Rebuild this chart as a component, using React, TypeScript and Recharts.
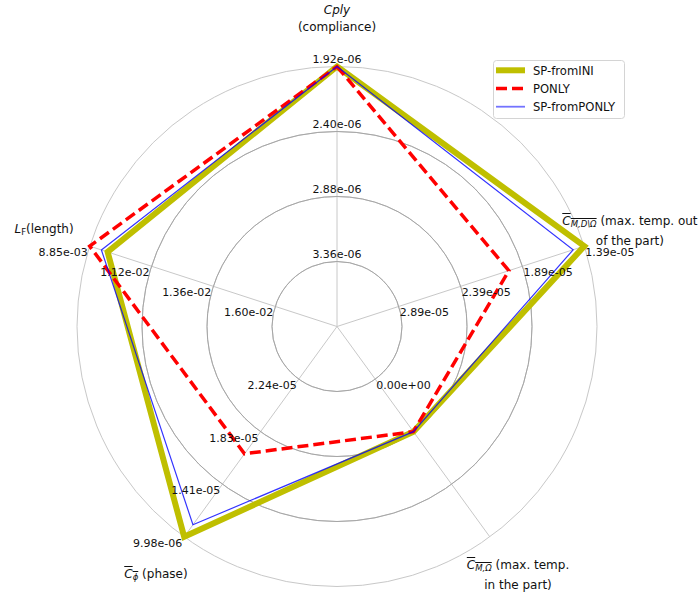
import React from "react";
import { RadarChart, Radar, PolarGrid, PolarAngleAxis, PolarRadiusAxis } from "recharts";

// axes, clockwise from the top
const axes = ["Cply", "CmOut", "CmIn", "Cphi", "Lf"];
const axisAngles = [90, 18, -54, -126, 162];

// grid labels per axis, inner ring -> outer ring (outer = best)
const cplyTicks = ["3.36e-06", "2.88e-06", "2.40e-06", "1.92e-06"];
const cmOutTicks = ["2.89e-05", "2.39e-05", "1.89e-05", "1.39e-05"];
const cmInTicks = ["0.00e+00", "", "", ""];
const cphiTicks = ["2.24e-05", "1.83e-05", "1.41e-05", "9.98e-06"];
const lfTicks = ["1.60e-02", "1.36e-02", "1.12e-02", "8.85e-03"];
const ringTicks = [1, 2, 3, 4];

const seriesNames = ["SP-fromINI", "PONLY", "SP-fromPONLY"];
const cplyValues = [1.92e-6, 1.92e-6, 1.92e-6];
const cmOutValues = [1.39e-5, 2.0e-5, 1.48e-5];
const cmInValues = [0, 0, 0];
const cphiValues = [9.98e-6, 1.652e-5, 1.093e-5];
const lfValues = [9.54e-3, 8.85e-3, 9.3e-3];

const axisTicks = [cplyTicks, cmOutTicks, cmInTicks, cphiTicks, lfTicks];
const axisValues = [cplyValues, cmOutValues, cmInValues, cphiValues, lfValues];

// ring index 1 (inner tick) .. 4 (outer tick); a flat axis sits on ring 2
function toRing(v: number, ticks: string[]) {
  const inner = parseFloat(ticks[0]);
  const outer = parseFloat(ticks[3]);
  if (!isFinite(outer) || outer === inner) return 2;
  return 1 + (3 * (inner - v)) / (inner - outer);
}

const keys = ["ini", "ponly", "fromPonly"];
const data = axes.map((a, i) => {
  const row: any = { axis: a };
  keys.forEach((k, s) => (row[k] = toRing(axisValues[i][s], axisTicks[i])));
  return row;
});

const FONT = "DejaVu Sans";
const RADIUS = 260;
const gridRadii = ringTicks.map((t) => (t * RADIUS) / 4);

// one radius axis (drawn at 90deg); its tick also writes the matching
// label on the other four spokes at the same ring coordinate
const RadiusTick = (props: any) => {
  const { x, y, payload } = props;
  const r = payload.coordinate;
  const cx = x;
  const cy = y + r;
  const idx = ringTicks.indexOf(payload.value);
  return (
    <g>
      {axisAngles.map((ang, i) => {
        const label = axisTicks[i][idx];
        if (!label) return null;
        const rad = (ang * Math.PI) / 180;
        const px = cx + r * Math.cos(rad);
        const py = cy - r * Math.sin(rad);
        if (ang === 90) {
          return (
            <text key={i} x={px} y={py - 3.5} textAnchor="middle" fontSize={11} fill="#111" fontFamily={FONT}>
              {label}
            </text>
          );
        }
        const right = Math.cos(rad) > 0;
        return (
          <text key={i} x={right ? px + 1 : px - 2} y={py + 10} textAnchor={right ? "start" : "end"}
            fontSize={11} fill="#111" fontFamily={FONT}>
            {label}
          </text>
        );
      })}
    </g>
  );
};

const sub = (s: string, italic = true) => (
  <sub style={{ fontSize: 8.5, verticalAlign: "-2px", fontStyle: italic ? "italic" : "normal" }}>{s}</sub>
);

const angleLabels = [
  <>
    <i>Cply</i>
    <br />
    (compliance)
  </>,
  <>
    <span style={{ textDecoration: "overline" }}>
      <i>C</i>
      {sub("M,D\\Ω")}
    </span>{" "}
    (max. temp. out
    <br />
    of the part)
  </>,
  <>
    <span style={{ textDecoration: "overline" }}>
      <i>C</i>
      {sub("M,Ω")}
    </span>{" "}
    (max. temp.
    <br />
    in the part)
  </>,
  <>
    <span style={{ textDecoration: "overline" }}>
      <i>C</i>
      {sub("ϕ")}
    </span>{" "}
    (phase)
  </>,
  <>
    <i>L</i>
    {sub("F", false)}(length)
  </>,
];

const AngleTick = (props: any) => {
  const { x, y, index } = props;
  return (
    <foreignObject x={x - 120} y={y - 30} width={240} height={60}>
      <div
        style={{
          width: 240,
          height: 60,
          display: "flex",
          alignItems: "center",
          justifyContent: "center",
          textAlign: "center",
          fontFamily: FONT,
          fontSize: 12,
          lineHeight: "17px",
          color: "#111",
          whiteSpace: "nowrap",
        }}
      >
        <div>{angleLabels[index]}</div>
      </div>
    </foreignObject>
  );
};

const seriesStyles = [
  { stroke: "#bfbf00", strokeWidth: 6, dash: undefined, opacity: 1 },
  { stroke: "#ff0000", strokeWidth: 3.5, dash: "11 5", opacity: 1 },
  { stroke: "#0000ff", strokeWidth: 1.2, dash: undefined, opacity: 0.8 },
];

const Legend = () => (
  <svg width={132} height={60} style={{ position: "absolute", left: 493, top: 60 }}>
    <rect x={0.5} y={0.5} width={131} height={58} rx={3} fill="rgba(255,255,255,0.8)" stroke="#d4d4d4" />
    {seriesNames.map((name, i) => {
      const yy = 10.3 + i * 18.2;
      const st = seriesStyles[i];
      const thin = st.strokeWidth < 2;
      return (
        <g key={name}>
          <line x1={3} x2={32} y1={yy} y2={yy} stroke={st.stroke} strokeWidth={thin ? 1.8 : st.strokeWidth}
            strokeDasharray={st.dash} strokeOpacity={thin ? 0.55 : st.opacity} />
          <text x={40} y={yy + 4.2} fontSize={11.6} fill="#111" fontFamily={FONT}>{name}</text>
        </g>
      );
    })}
  </svg>
);

export default function App() {
  return (
    <div style={{ position: "absolute", left: 0, top: 0, width: 700, height: 594, background: "#fff", fontFamily: FONT }}>
      <RadarChart width={700} height={594} data={data} cx={337} cy={326.5} outerRadius={RADIUS}
        margin={{ top: 0, right: 0, bottom: 0, left: 0 }}>
        <PolarGrid gridType="circle" polarRadius={gridRadii} stroke="#c8c8c8" strokeWidth={1} />
        <PolarGrid gridType="circle" polarRadius={gridRadii.slice(0, 3)} radialLines={false} stroke="#a6a6a6" strokeWidth={1} />
        <PolarAngleAxis dataKey="axis" tickLine={false} axisLine={false} tickSize={48} tick={<AngleTick />} />
        <PolarRadiusAxis angle={90} type="number" domain={[0, 4]} ticks={ringTicks}
          axisLine={false} tickLine={false} tick={<RadiusTick />} />
        {keys.map((k, s) => (
          <Radar key={k} name={seriesNames[s]} dataKey={k} fill="none" fillOpacity={0}
            stroke={seriesStyles[s].stroke} strokeWidth={seriesStyles[s].strokeWidth}
            strokeDasharray={seriesStyles[s].dash} strokeOpacity={seriesStyles[s].opacity}
            isAnimationActive={false} />
        ))}
      </RadarChart>
      <Legend />
    </div>
  );
}
